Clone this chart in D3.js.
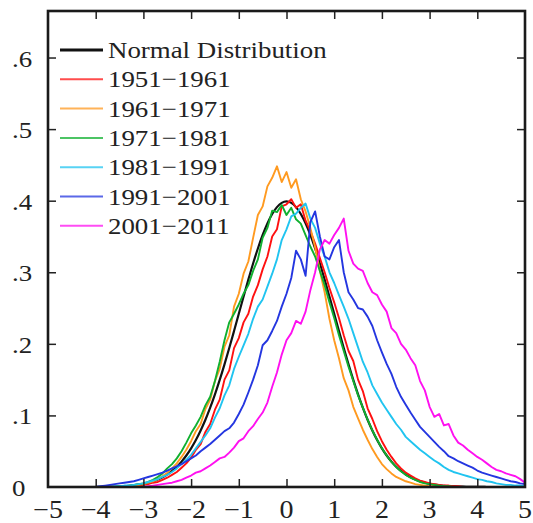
<!DOCTYPE html>
<html>
<head>
<meta charset="utf-8">
<script src="https://cdn.jsdelivr.net/npm/d3@7"></script>
<style>
body { margin: 0; background: #fff; }
text { font-family: "Liberation Serif", "Times New Roman", serif; fill: #222; }
</style>
</head>
<body>
<svg id="chart" width="533" height="523"></svg>
<script>
// bin centres (standardised anomaly)
var xs = [
    -4.0, -3.9, -3.8, -3.7, -3.6, -3.5, -3.4, -3.3, -3.2, -3.1,
    -3.0, -2.9, -2.8, -2.7, -2.6, -2.5, -2.4, -2.3, -2.2, -2.1,
    -2.0, -1.9, -1.8, -1.7, -1.6, -1.5, -1.4, -1.3, -1.2, -1.1,
    -1.0, -0.9, -0.8, -0.7, -0.6, -0.5, -0.4, -0.3, -0.2, -0.1,
    0.0, 0.1, 0.2, 0.3, 0.4, 0.5, 0.6, 0.7, 0.8, 0.9,
    1.0, 1.1, 1.2, 1.3, 1.4, 1.5, 1.6, 1.7, 1.8, 1.9,
    2.0, 2.1, 2.2, 2.3, 2.4, 2.5, 2.6, 2.7, 2.8, 2.9,
    3.0, 3.1, 3.2, 3.3, 3.4, 3.5, 3.6, 3.7, 3.8, 3.9,
    4.0, 4.1, 4.2, 4.3, 4.4, 4.5, 4.6, 4.7, 4.8, 4.9,
    5.0
];

var normalDist = [
    0.0001, 0.0002, 0.0003, 0.0004, 0.0006, 0.0009, 0.0012, 0.0017, 0.0024, 0.0033,
    0.0044, 0.0060, 0.0079, 0.0104, 0.0136, 0.0175, 0.0224, 0.0283, 0.0355, 0.0440,
    0.0540, 0.0656, 0.0790, 0.0940, 0.1109, 0.1295, 0.1497, 0.1714, 0.1942, 0.2179,
    0.2420, 0.2661, 0.2897, 0.3123, 0.3332, 0.3521, 0.3683, 0.3814, 0.3910, 0.3970,
    0.3989, 0.3970, 0.3910, 0.3814, 0.3683, 0.3521, 0.3332, 0.3123, 0.2897, 0.2661,
    0.2420, 0.2179, 0.1942, 0.1714, 0.1497, 0.1295, 0.1109, 0.0940, 0.0790, 0.0656,
    0.0540, 0.0440, 0.0355, 0.0283, 0.0224, 0.0175, 0.0136, 0.0104, 0.0079, 0.0060,
    0.0044, 0.0033, 0.0024, 0.0017, 0.0012, 0.0009, 0.0006, 0.0004, 0.0003, 0.0002,
    0.0001, 0.0001, 0, 0, 0, 0, 0, 0, 0, 0,
    0
];

var d1951 = [
    0, 0, 0, 0, 0, 0.001, 0.001, 0.001, 0.002, 0.002,
    0.003, 0.004, 0.006, 0.007, 0.010, 0.013, 0.017, 0.021, 0.027, 0.033,
    0.041, 0.052, 0.060, 0.077, 0.088, 0.108, 0.122, 0.150, 0.163, 0.194,
    0.208, 0.230, 0.242, 0.266, 0.282, 0.304, 0.322, 0.350, 0.360, 0.392,
    0.395, 0.402, 0.390, 0.395, 0.372, 0.358, 0.340, 0.320, 0.300, 0.278,
    0.258, 0.236, 0.212, 0.190, 0.176, 0.150, 0.134, 0.110, 0.095, 0.078,
    0.064, 0.052, 0.042, 0.033, 0.026, 0.020, 0.016, 0.012, 0.009, 0.007,
    0.005, 0.004, 0.003, 0.002, 0.002, 0.001, 0.001, 0, 0, 0,
    0, 0, 0, 0, 0, 0, 0, 0, 0, 0,
    0
];

var d1961 = [
    0, 0, 0, 0, 0, 0, 0.001, 0.001, 0.002, 0.003,
    0.004, 0.006, 0.008, 0.011, 0.015, 0.020, 0.026, 0.033, 0.042, 0.052,
    0.064, 0.078, 0.088, 0.109, 0.122, 0.148, 0.165, 0.196, 0.212, 0.252,
    0.270, 0.298, 0.315, 0.348, 0.380, 0.392, 0.420, 0.432, 0.448, 0.426,
    0.440, 0.418, 0.430, 0.402, 0.385, 0.362, 0.335, 0.302, 0.272, 0.235,
    0.205, 0.180, 0.152, 0.135, 0.112, 0.096, 0.080, 0.066, 0.053, 0.042,
    0.032, 0.025, 0.019, 0.014, 0.011, 0.008, 0.006, 0.004, 0.003, 0.002,
    0.001, 0.001, 0, 0, 0, 0, 0, 0, 0, 0,
    0, 0, 0, 0, 0, 0, 0, 0, 0, 0,
    0
];

var d1971 = [
    0, 0, 0, 0, 0, 0.001, 0.001, 0.002, 0.003, 0.004,
    0.005, 0.007, 0.010, 0.014, 0.019, 0.026, 0.032, 0.040, 0.050, 0.062,
    0.075, 0.086, 0.098, 0.114, 0.126, 0.148, 0.175, 0.205, 0.230, 0.242,
    0.255, 0.270, 0.282, 0.302, 0.318, 0.348, 0.362, 0.386, 0.384, 0.394,
    0.380, 0.390, 0.374, 0.368, 0.352, 0.336, 0.322, 0.302, 0.282, 0.258,
    0.236, 0.212, 0.190, 0.168, 0.148, 0.128, 0.111, 0.094, 0.079, 0.066,
    0.054, 0.044, 0.035, 0.028, 0.022, 0.017, 0.013, 0.010, 0.007, 0.005,
    0.004, 0.003, 0.002, 0.001, 0.001, 0, 0, 0, 0, 0,
    0, 0, 0, 0, 0, 0, 0, 0, 0, 0,
    0
];

var d1981 = [
    0, 0, 0, 0, 0.001, 0.001, 0.002, 0.002, 0.003, 0.004,
    0.005, 0.007, 0.009, 0.011, 0.014, 0.017, 0.021, 0.026, 0.032, 0.038,
    0.045, 0.054, 0.063, 0.072, 0.082, 0.097, 0.110, 0.128, 0.142, 0.165,
    0.182, 0.198, 0.214, 0.235, 0.252, 0.262, 0.280, 0.298, 0.318, 0.345,
    0.360, 0.378, 0.382, 0.390, 0.396, 0.375, 0.362, 0.340, 0.322, 0.300,
    0.285, 0.268, 0.252, 0.235, 0.215, 0.195, 0.175, 0.160, 0.142, 0.130,
    0.118, 0.108, 0.098, 0.088, 0.080, 0.070, 0.064, 0.058, 0.052, 0.047,
    0.042, 0.037, 0.033, 0.028, 0.024, 0.021, 0.019, 0.017, 0.015, 0.013,
    0.011, 0.010, 0.008, 0.007, 0.005, 0.004, 0.003, 0.003, 0.002, 0.002,
    0.001
];

var d1991 = [
    0, 0.001, 0.002, 0.003, 0.004, 0.005, 0.006, 0.007, 0.008, 0.010,
    0.012, 0.014, 0.016, 0.018, 0.020, 0.023, 0.026, 0.029, 0.032, 0.036,
    0.040, 0.044, 0.050, 0.055, 0.060, 0.066, 0.072, 0.078, 0.082, 0.090,
    0.102, 0.115, 0.132, 0.150, 0.170, 0.198, 0.205, 0.218, 0.232, 0.252,
    0.270, 0.292, 0.330, 0.318, 0.295, 0.370, 0.385, 0.350, 0.322, 0.318,
    0.335, 0.345, 0.300, 0.272, 0.262, 0.250, 0.248, 0.238, 0.225, 0.205,
    0.188, 0.172, 0.158, 0.140, 0.126, 0.115, 0.104, 0.094, 0.084, 0.077,
    0.070, 0.063, 0.056, 0.050, 0.043, 0.040, 0.036, 0.033, 0.030, 0.027,
    0.023, 0.020, 0.018, 0.016, 0.014, 0.012, 0.010, 0.008, 0.007, 0.005,
    0.004
];

var d2001 = [
    0, 0, 0, 0, 0, 0, 0, 0, 0, 0,
    0, 0.001, 0.002, 0.003, 0.004, 0.005, 0.006, 0.008, 0.010, 0.013,
    0.016, 0.020, 0.022, 0.026, 0.030, 0.035, 0.040, 0.042, 0.048, 0.055,
    0.064, 0.068, 0.078, 0.085, 0.095, 0.104, 0.118, 0.140, 0.160, 0.185,
    0.205, 0.215, 0.232, 0.228, 0.245, 0.275, 0.300, 0.332, 0.345, 0.340,
    0.352, 0.362, 0.375, 0.330, 0.312, 0.305, 0.302, 0.285, 0.272, 0.268,
    0.255, 0.245, 0.222, 0.215, 0.200, 0.192, 0.180, 0.170, 0.148, 0.135,
    0.112, 0.098, 0.102, 0.086, 0.088, 0.072, 0.062, 0.058, 0.052, 0.047,
    0.042, 0.038, 0.033, 0.028, 0.024, 0.022, 0.019, 0.017, 0.015, 0.011,
    0.006
];

var seriesNames = ['Normal Distribution', '1951\u22121961', '1961\u22121971', '1971\u22121981',
    '1981\u22121991', '1991\u22122001', '2001\u22122011'];
var seriesValues = [normalDist, d1951, d1961, d1971, d1981, d1991, d2001];
var seriesColors = ['#111111', '#ff1010', '#ff9a20', '#10b030', '#20c4f0', '#2436e0', '#ff10f0'];

var xTicks = [-5, -4, -3, -2, -1, 0, 1, 2, 3, 4, 5];
var xTickLabels = ['\u22125', '\u22124', '\u22123', '\u22122', '\u22121', '0', '1', '2', '3', '4', '5'];
var yTicks = [0, 0.1, 0.2, 0.3, 0.4, 0.5, 0.6];
var yTickLabels = ['0', '.1', '.2', '.3', '.4', '.5', '.6'];

var svg = d3.select('#chart');

var plotL = 48, plotR = 525, plotT = 11, plotB = 487;
var stretch = 1.12; // text in the reference looks a bit wide

var x = d3.scaleLinear().domain([-5, 5]).range([plotL, plotR]);
var y = d3.scaleLinear().domain([0, 0.665]).range([plotB, plotT]);

svg.append('defs').append('clipPath').attr('id', 'plot-clip')
    .append('rect')
    .attr('x', plotL).attr('y', plotT)
    .attr('width', plotR - plotL).attr('height', plotB - plotT);

// curves
var line = d3.line()
    .x(function(d) { return x(d[0]); })
    .y(function(d) { return y(d[1]); });

var curves = svg.append('g').attr('clip-path', 'url(#plot-clip)');

seriesValues.forEach(function(vals, i) {
    var pts = xs.map(function(v, j) { return [v, vals[j]]; });
    curves.append('path')
        .datum(pts)
        .attr('d', i == 0 ? line.curve(d3.curveMonotoneX) : line.curve(d3.curveLinear))
        .attr('fill', 'none')
        .attr('stroke', seriesColors[i])
        .attr('stroke-width', i == 0 ? 2.2 : 1.9)
        .attr('stroke-linejoin', 'round');
});

// inward ticks on all four sides
var tickLen = 8;
var innerX = xTicks.slice(1, -1);
var innerY = yTicks.slice(1);

svg.append('g').attr('transform', 'translate(0,' + plotB + ')')
    .call(d3.axisBottom(x).tickValues(innerX).tickSize(-tickLen).tickFormat(''));
svg.append('g').attr('transform', 'translate(0,' + plotT + ')')
    .call(d3.axisTop(x).tickValues(innerX).tickSize(-tickLen).tickFormat(''));
svg.append('g').attr('transform', 'translate(' + plotL + ',0)')
    .call(d3.axisLeft(y).tickValues(innerY).tickSize(-tickLen).tickFormat(''));
svg.append('g').attr('transform', 'translate(' + plotR + ',0)')
    .call(d3.axisRight(y).tickValues(innerY).tickSize(-tickLen).tickFormat(''));

svg.selectAll('.domain').remove();
svg.selectAll('.tick line').attr('stroke', '#222').attr('stroke-width', 1.5);

// frame
svg.append('rect')
    .attr('x', plotL).attr('y', plotT)
    .attr('width', plotR - plotL).attr('height', plotB - plotT)
    .attr('fill', 'none')
    .attr('stroke', '#1a1a1a')
    .attr('stroke-width', 2.6);

// tick labels
svg.append('g').selectAll('text')
    .data(yTicks)
    .enter().append('text')
    .attr('transform', function(d) { return 'translate(12,' + (y(d) + 9) + ') scale(' + stretch + ',1)'; })
    .attr('font-size', 24)
    .text(function(d, i) { return yTickLabels[i]; });

svg.append('g').selectAll('text')
    .data(xTicks)
    .enter().append('text')
    .attr('transform', function(d) { return 'translate(' + x(d) + ',518) scale(' + stretch + ',1)'; })
    .attr('text-anchor', 'middle')
    .attr('font-size', 25)
    .text(function(d, i) { return xTickLabels[i]; });

// legend
var legend = svg.append('g');
var rowGap = 29.3;

seriesNames.forEach(function(name, i) {
    var ry = 50 + i * rowGap;
    legend.append('line')
        .attr('x1', 60).attr('x2', 103)
        .attr('y1', ry).attr('y2', ry)
        .attr('stroke', seriesColors[i])
        .attr('stroke-opacity', i == 0 ? 1 : 0.75)
        .attr('stroke-width', i == 0 ? 3 : 2);
    legend.append('text')
        .attr('transform', 'translate(108,' + (ry + 8) + ') scale(' + stretch + ',1)')
        .attr('font-size', 24)
        .text(name);
});
</script>
</body>
</html>
